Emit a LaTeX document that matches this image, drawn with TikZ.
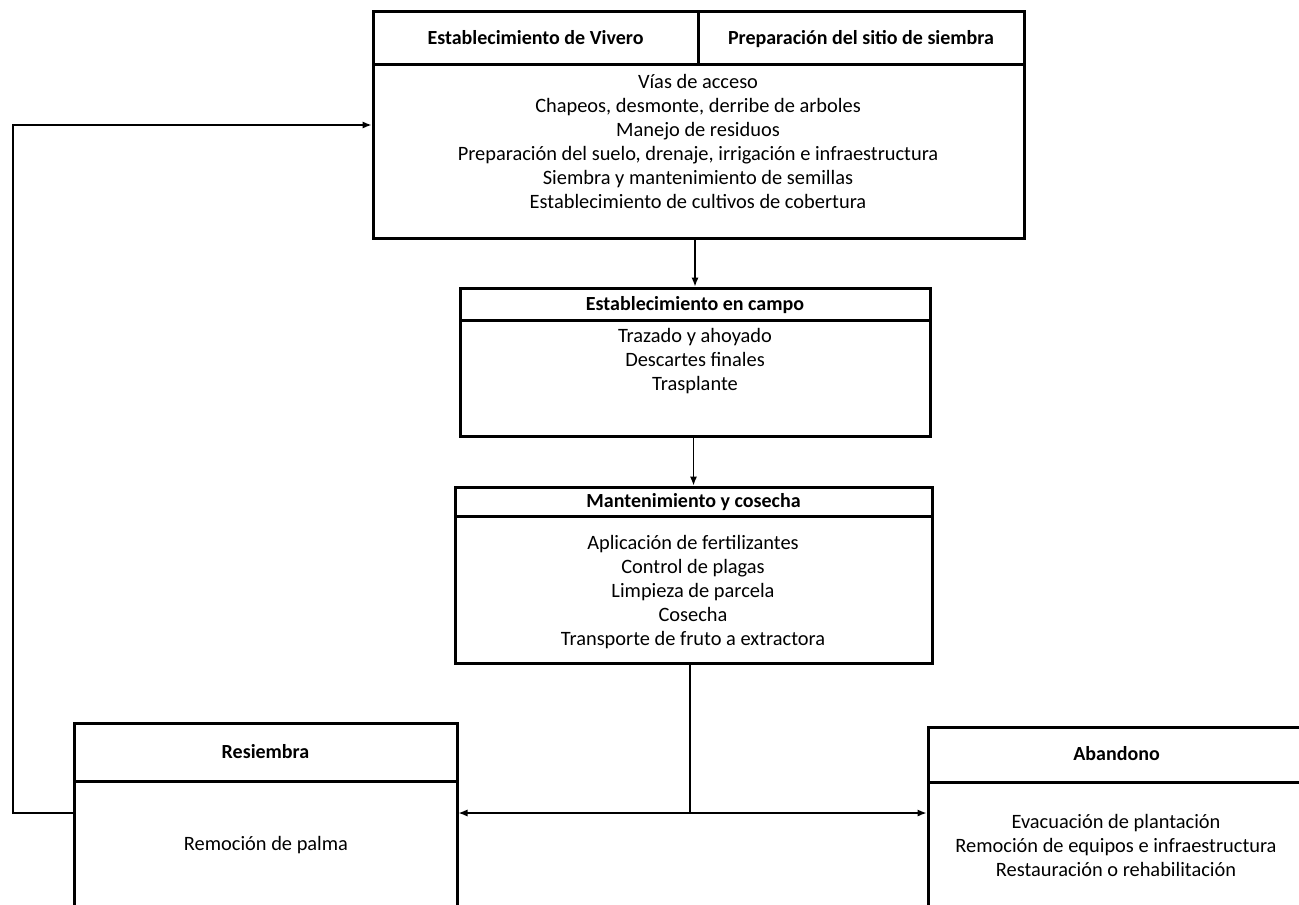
\documentclass[tikz,border=0pt]{standalone}
\usepackage{fontspec}
\setmainfont{Carlito}
\usetikzlibrary{arrows.meta,fit,calc}
\begin{document}
\begin{tikzpicture}[x=0.5pt,y=-0.5pt,
  boxe/.style={draw, line width=1.5pt, inner sep=0pt},
  hdr/.style={font=\fontsize{10}{12}\selectfont\bfseries, inner sep=0pt, text height=6.4pt, text depth=0pt},
  body/.style={font=\fontsize{10.2}{12}\selectfont, align=center, inner sep=0pt, anchor=north},
  conn/.style={line width=0.7pt},
  arr/.style={conn, -{Latex[length=4.5pt,width=3.6pt]}}]
\useasboundingbox (0,0) rectangle (1299,904);
\fill[white] (0,0) rectangle (1299,904);
\begin{scope}
\clip (0,0) rectangle (1299,904);
% top block
\node[boxe, fit={(373,12) (698,65)}] (hv) {};
\node[hdr] (thv) at (hv.center) {Establecimiento de Vivero};
\node[boxe, fit={(698,12) (1024,65)}] (hp) {};
\node[hdr] (thp) at (hp.center) {Preparación del sitio de siembra};
\node[boxe, fit={(373,65) (1024,238)}] (b1) {};
\node[body] (tb1) at (698,74) {Vías de acceso\\Chapeos, desmonte, derribe de arboles\\Manejo de residuos\\Preparación del suelo, drenaje, irrigación e infraestructura\\Siembra y mantenimiento de semillas\\Establecimiento de cultivos de cobertura};
% block 2
\node[boxe, fit={(460,288) (930,320)}] (h2) {};
\node[hdr] (th2) at (h2.center) {Establecimiento en campo};
\node[boxe, fit={(460,320) (930,436)}] (b2) {};
\node[body] (tb2) at (695,328) {Trazado y ahoyado\\Descartes finales\\Trasplante};
% block 3
\node[boxe, fit={(455,487) (932,516)}] (h3) {};
\node[hdr] (th3) at (h3.center) {Mantenimiento y cosecha};
\node[boxe, fit={(455,516) (932,663)}] (b3) {};
\node[body] (tb3) at (693,535) {Aplicación de fertilizantes\\Control de plagas\\Limpieza de parcela\\Cosecha\\Transporte de fruto a extractora};
% Resiembra
\node[boxe, fit={(74,723) (457,781)}] (rh) {};
\node[hdr] (trh) at (rh.center) {Resiembra};
\node[boxe, fit={(74,781) (457,930)}] (rb) {};
\node[body, anchor=center] (trb) at (266,845) {Remoción de palma};
% Abandono
\node[boxe, fit={(928,727) (1305,782)}] (ah) {};
\node[hdr] (tah) at (ah.center) {Abandono};
\node[boxe, fit={(928,782) (1305,930)}] (ab) {};
\node[body] (tab) at (1116,814) {Evacuación de plantación\\Remoción de equipos e infraestructura\\Restauración o rehabilitación};
\end{scope}
% connectors
\coordinate (j) at (690,813);
\coordinate (fbl) at (13,125);
\draw[arr] (b1.south -| h2.north) -- (h2.north);
\draw[arr] (b2.south -| h3.north) -- (h3.north);
\draw[conn] (b3.south -| j) -- (j);
\draw[arr] (j) -- (j -| rb.east);
\draw[arr] (j) -- (j -| ab.west);
\draw[arr] (j -| rb.west) -| (fbl) -- (fbl -| b1.west);
\end{tikzpicture}
\end{document}
